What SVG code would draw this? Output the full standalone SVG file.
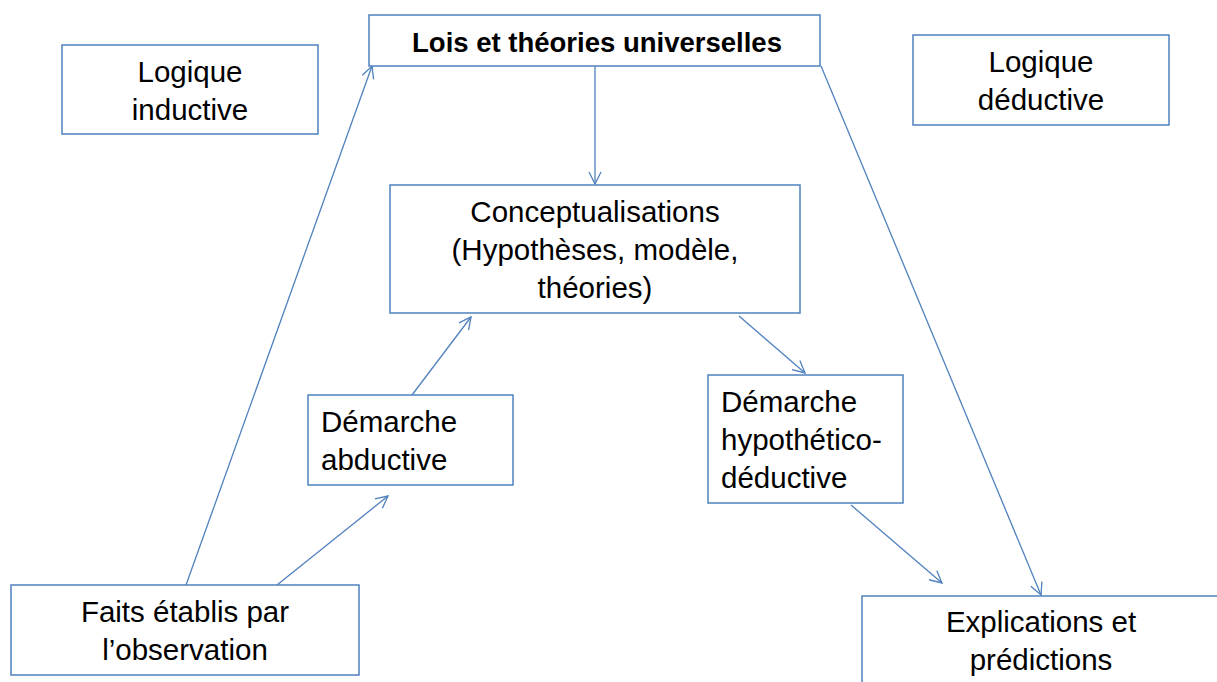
<svg xmlns="http://www.w3.org/2000/svg" width="1217" height="682" viewBox="0 0 1217 682">
  <defs>
    <style>
      .box { fill: #ffffff; stroke: #4f81bd; stroke-width: 1.5; }
      .t { font-family: "Liberation Sans", "Open Sans", sans-serif; font-size: 29.5px; fill: #000000; }
      .c { text-anchor: middle; }
      .b { font-weight: bold; font-size: 27.5px; }
      .link { stroke: #4f81bd; stroke-width: 1.3; fill: none; marker-end: url(#arrow); }
    </style>
    <marker id="arrow" viewBox="0 0 14 14" refX="13" refY="7" markerWidth="14" markerHeight="14" markerUnits="userSpaceOnUse" orient="auto">
      <path d="M1,1 L13,7 L1,13" fill="none" stroke="#4f81bd" stroke-width="1.3"/>
    </marker>
  </defs>

  <rect width="1217" height="682" fill="#ffffff"/>

  <g id="connectors">
    <line class="link" x1="186" y1="585" x2="372" y2="66"/>
    <line class="link" x1="277" y1="585" x2="388" y2="496"/>
    <line class="link" x1="412" y1="395" x2="471" y2="317"/>
    <line class="link" x1="595" y1="66" x2="595" y2="184"/>
    <line class="link" x1="739" y1="316" x2="805" y2="373"/>
    <line class="link" x1="851" y1="505" x2="942" y2="583"/>
    <line class="link" x1="821" y1="66" x2="1041" y2="595"/>
  </g>

  <g id="lois">
    <rect class="box" x="369" y="15" width="451" height="51"/>
    <text class="t c b" x="597" y="52">Lois et théories universelles</text>
  </g>

  <g id="logique-inductive">
    <rect class="box" x="62" y="45" width="256" height="89"/>
    <text class="t c" x="190" y="82">Logique</text>
    <text class="t c" x="190" y="120">inductive</text>
  </g>

  <g id="logique-deductive">
    <rect class="box" x="913" y="35" width="256" height="90"/>
    <text class="t c" x="1041" y="72">Logique</text>
    <text class="t c" x="1041" y="110">déductive</text>
  </g>

  <g id="conceptualisations">
    <rect class="box" x="390" y="185" width="410" height="128"/>
    <text class="t c" x="595" y="222">Conceptualisations</text>
    <text class="t c" x="595" y="260">(Hypothèses, modèle,</text>
    <text class="t c" x="595" y="298">théories)</text>
  </g>

  <g id="demarche-abductive">
    <rect class="box" x="308" y="395" width="205" height="90"/>
    <text class="t" x="321" y="432">Démarche</text>
    <text class="t" x="321" y="470">abductive</text>
  </g>

  <g id="demarche-hypothetico-deductive">
    <rect class="box" x="708" y="375" width="195" height="128"/>
    <text class="t" x="721" y="412">Démarche</text>
    <text class="t" x="721" y="450">hypothético-</text>
    <text class="t" x="721" y="488">déductive</text>
  </g>

  <g id="faits">
    <rect class="box" x="11" y="585" width="348" height="90"/>
    <text class="t c" x="185" y="622">Faits établis par</text>
    <text class="t c" x="185" y="660">l’observation</text>
  </g>

  <g id="explications">
    <rect class="box" x="862" y="596" width="370" height="100"/>
    <text class="t c" x="1041" y="632">Explications et</text>
    <text class="t c" x="1041" y="670">prédictions</text>
  </g>
</svg>
